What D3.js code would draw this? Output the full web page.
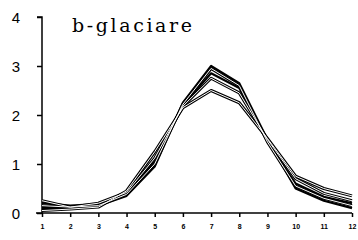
<!DOCTYPE html>
<html>
<head>
<meta charset="utf-8">
<script src="https://cdn.jsdelivr.net/npm/d3@7"></script>
<style>
  body { margin: 0; background: #fff; }
  svg { display: block; }
</style>
</head>
<body>
<div id="chart"></div>
<script>
// months 1..12
const months = [1, 2, 3, 4, 5, 6, 7, 8, 9, 10, 11, 12]
const serieA = [0.10, 0.10, 0.15, 0.35, 0.95, 2.25, 3.00, 2.65, 1.50, 0.50, 0.25, 0.10]
const serieB = [0.15, 0.12, 0.15, 0.38, 1.00, 2.22, 2.95, 2.60, 1.45, 0.55, 0.30, 0.15]
const serieC = [0.20, 0.15, 0.18, 0.40, 1.05, 2.20, 2.85, 2.55, 1.45, 0.60, 0.33, 0.20]
const serieD = [0.25, 0.12, 0.20, 0.42, 1.12, 2.18, 2.75, 2.45, 1.50, 0.70, 0.40, 0.25]
const serieE = [0.05, 0.08, 0.12, 0.45, 1.25, 2.15, 2.50, 2.25, 1.52, 0.75, 0.50, 0.35]
const yTicks = [0, 1, 2, 3, 4]
const title = 'b-glaciare'

const series = [
  { values: serieA, hollow: false },
  { values: serieB, hollow: true },
  { values: serieC, hollow: false },
  { values: serieD, hollow: true },
  { values: serieE, hollow: true }
]

var width = 358, height = 240

var svg = d3.select('#chart').
  append('svg').
  attr('width', width).
  attr('height', height)

var x = d3.scaleLinear().domain([1, 12]).range([42, 352])
var y = d3.scaleLinear().domain([0, 4]).range([213, 17])

// y axis
var yAxis = d3.axisLeft(y).tickValues(yTicks).tickSize(5).tickFormat(d3.format('d'))
var gy = svg.append('g').attr('transform', 'translate(42,0)').call(yAxis)
gy.select('.domain').attr('d', 'M-5,17H0V213').attr('stroke', '#000').attr('stroke-width', 1.5)
gy.selectAll('.tick line').attr('stroke', '#000').attr('stroke-width', 1.5)
gy.selectAll('.tick text').
  attr('x', -26).
  attr('dy', '0.35em').
  attr('text-anchor', 'middle').
  style('font-family', 'Arial, "Liberation Sans", sans-serif').
  style('font-size', '15px').
  attr('fill', '#000')

// x axis
var xAxis = d3.axisBottom(x).tickValues(months).tickSize(4).tickFormat(d3.format('d'))
var gx = svg.append('g').attr('transform', 'translate(0,213)').call(xAxis)
gx.select('.domain').attr('d', 'M36,0H352').attr('stroke', '#000').attr('stroke-width', 1.5)
gx.selectAll('.tick line').attr('stroke', '#000').attr('stroke-width', 1.5)
gx.selectAll('.tick text').
  attr('y', 11).
  style('font-family', 'Arial, "Liberation Sans", sans-serif').
  style('font-size', '7px').
  style('font-weight', 'bold').
  attr('fill', '#000')

var line = d3.line().
  x((d, i) => x(months[i])).
  y(d => y(d))

// black under-strokes first, then the white cores of hollow lines
svg.selectAll('path.under').
  data(series).
  enter().
  append('path').
  attr('class', 'under').
  attr('d', d => line(d.values)).
  attr('fill', 'none').
  attr('stroke', '#000').
  attr('stroke-width', d => d.hollow ? 3 : 2.2).
  attr('stroke-linejoin', 'round')

svg.selectAll('path.core').
  data(series.filter(d => d.hollow)).
  enter().
  append('path').
  attr('class', 'core').
  attr('d', d => line(d.values)).
  attr('fill', 'none').
  attr('stroke', '#fff').
  attr('stroke-width', 1).
  attr('stroke-linejoin', 'round')

svg.append('text').
  attr('x', 72).
  attr('y', 32).
  attr('textLength', 120).
  attr('lengthAdjust', 'spacing').
  text(title).
  style('font-family', '"DejaVu Serif", "Liberation Serif", serif').
  style('font-size', '19px').
  attr('fill', '#000')
</script>
</body>
</html>
